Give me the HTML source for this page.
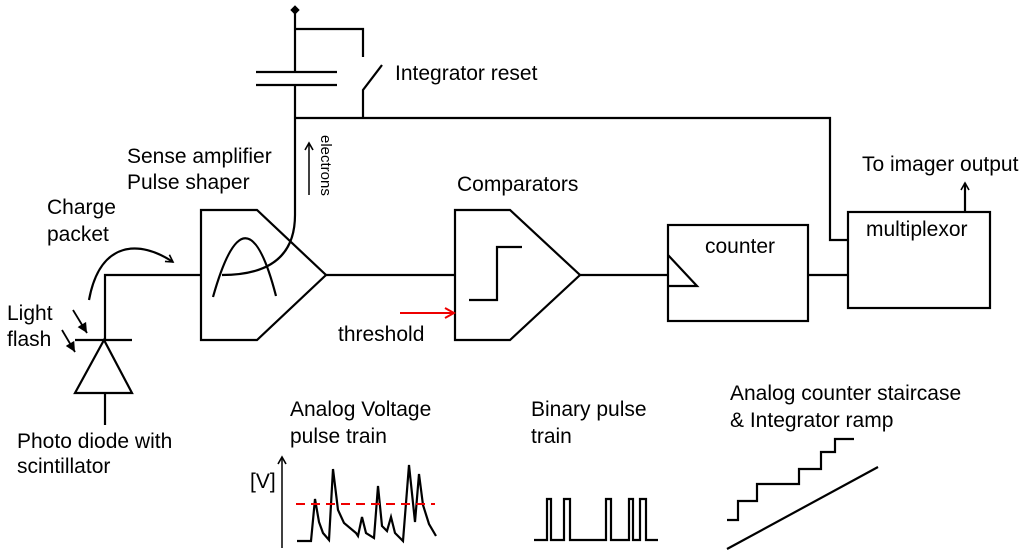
<!DOCTYPE html>
<html><head><meta charset="utf-8"><style>
html,body{margin:0;padding:0;background:#fff;}
svg{display:block;}
text{font-family:"Liberation Sans",Arial,sans-serif;font-size:21px;fill:#000;}
</style></head><body>
<svg width="1024" height="556" viewBox="0 0 1024 556" xmlns="http://www.w3.org/2000/svg">
<defs>
<marker id="ah" markerWidth="10" markerHeight="10" refX="8" refY="5" orient="auto" markerUnits="userSpaceOnUse">
<path d="M1,1 L8,5 L1,9" fill="none" stroke="#000" stroke-width="1.6"/></marker>
<marker id="ahr" markerWidth="12" markerHeight="12" refX="10" refY="6" orient="auto" markerUnits="userSpaceOnUse">
<path d="M1,1 L10,6 L1,11" fill="none" stroke="#e00" stroke-width="2"/></marker>
<marker id="ahf" markerWidth="12" markerHeight="12" refX="10" refY="6" orient="auto" markerUnits="userSpaceOnUse">
<path d="M0,1 L10,6 L0,11 Z" fill="#000"/></marker>
</defs>
<g fill="none" stroke="#000" stroke-width="2.2">
<path d="M295,10 V72"/>
<path d="M291,10 L295,6 L299,10 L295,14 Z" fill="#000" stroke-width="1"/>
<path d="M256,72 H337 M256,85 H337"/>
<path d="M295,29 H363 V57"/>
<path d="M382,65 L363,90 V118"/>
<path d="M295,85 V215 Q295,275 222,275"/>
<path d="M295,118 H830 V240 H848"/>
<path d="M201,210 H257 L326,275 L257,340 H201 Z"/>
<path d="M213,297 Q246,180 276,296"/>
<path d="M105,340 V275 H201"/>
<path d="M326,275 H455"/>
<path d="M455,210 H510 L580,275 L510,340 H455 Z"/>
<path d="M469,300 H497 V247 H522"/>
<path d="M580,275 H668"/>
<rect x="668" y="225" width="140" height="96"/>
<path d="M668,255 L697,286 H668"/>
<path d="M808,275 H848"/>
<rect x="848" y="212" width="142" height="96"/>
<path d="M965,212 V183" marker-end="url(#ah)"/>
<path d="M75,340 H132"/>
<path d="M104,340 L75,393 H132 Z"/>
<path d="M105,393 V425"/>
<path d="M73,310 L87,333" marker-end="url(#ahf)" stroke-width="1.8"/>
<path d="M62,330 L75,352" marker-end="url(#ahf)" stroke-width="1.8"/>
<path d="M89,300 C100,240 140,240 173,262" marker-end="url(#ah)"/>
<path d="M309,195 V143" stroke-width="1.5" marker-end="url(#ah)"/>
<path d="M282,548 V457" stroke-width="1.5" marker-end="url(#ah)"/>
<polyline points="297,541 311,541 315,499 319,522 323,533 329,540 333,469 338,510 344,523 356,533 358,536 362,517 366,533 374,538 378,486 382,526 387,531 391,517 395,533 403,541 409,465 415,522 419,474 423,505 429,524 436,536"/>
<polyline points="534,540 547,540 547,499 551,499 551,540 564,540 564,499 570,499 570,540 606,540 606,499 611,499 611,540 629,540 629,499 633,499 633,540 640,540 640,499 646,499 646,540 658,540"/>
<polyline points="727,520 738,520 738,501 757,501 757,484 799,484 799,469 821,469 821,452 835,452 835,439 854,439"/>
<path d="M727,549 L878,467"/>
</g>
<path d="M296,504 H435" stroke="#e00" stroke-width="2" stroke-dasharray="9,6" fill="none"/>
<path d="M400,313 H454" stroke="#e00" stroke-width="2" fill="none" marker-end="url(#ahr)"/>
<text x="395" y="80">Integrator reset</text>
<text x="127" y="163">Sense amplifier</text>
<text x="127" y="189">Pulse shaper</text>
<text x="47" y="214">Charge</text>
<text x="47" y="241">packet</text>
<text x="7" y="320">Light</text>
<text x="7" y="346">flash</text>
<text x="457" y="191">Comparators</text>
<text x="338" y="341">threshold</text>
<text x="705" y="253">counter</text>
<text x="866" y="236">multiplexor</text>
<text x="862" y="171">To imager output</text>
<text x="17" y="448">Photo diode with</text>
<text x="17" y="473">scintillator</text>
<text x="290" y="416">Analog Voltage</text>
<text x="290" y="443">pulse train</text>
<text x="250" y="488">[V]</text>
<text x="531" y="416">Binary pulse</text>
<text x="531" y="443">train</text>
<text x="730" y="400">Analog counter staircase</text>
<text x="730" y="427">&amp; Integrator ramp</text>
<text transform="translate(321,135) rotate(90)" style="font-size:15px">electrons</text>
</svg>
</body></html>
